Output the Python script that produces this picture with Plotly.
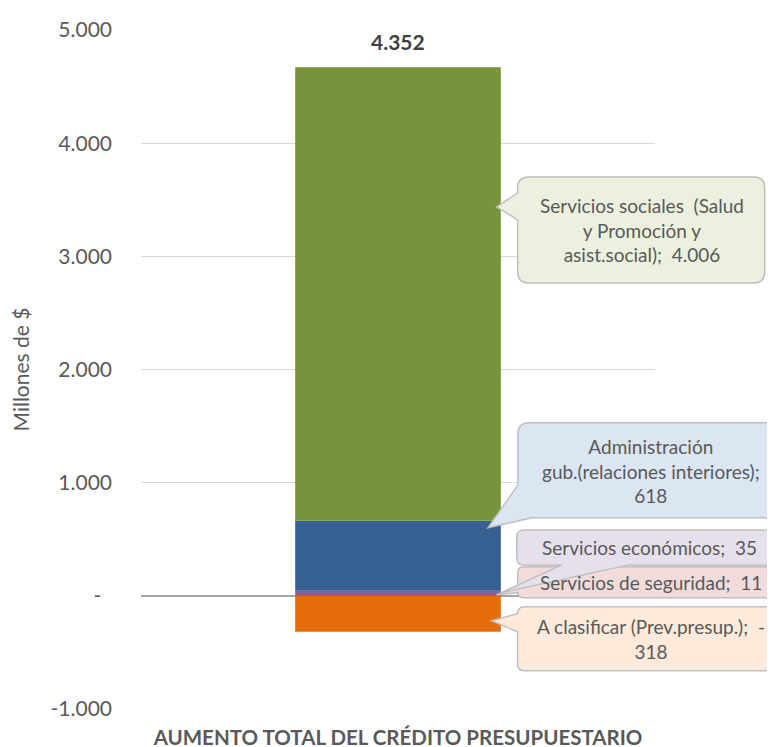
import plotly.graph_objects as go

category = "AUMENTO TOTAL DEL CRÉDITO PRESUPUESTARIO"
series_names = [
    "Servicios de seguridad",
    "Servicios económicos",
    "Administración gub.(relaciones interiores)",
    "Servicios sociales  (Salud y Promoción y asist.social)",
    "A clasificar (Prev.presup.)",
]
series_values = [11, 35, 618, 4006, -318]
series_colors = ["#C0504D", "#8064A2", "#366092", "#77933C", "#E46C0A"]
callout_texts = [
    "Servicios de seguridad;  11",
    "Servicios económicos;  35",
    "Administración<br>gub.(relaciones interiores);<br>618",
    "Servicios sociales  (Salud<br>y Promoción y<br>asist.social);  4.006",
    "A clasificar (Prev.presup.);  -<br>318",
]
callout_bg = ["#F2DCDB", "#E6E0EC", "#DCE6F2", "#EBF1DE", "#FDEADA"]
tick_vals = [-1000, 0, 1000, 2000, 3000, 4000, 5000]
tick_text = ["-1.000", "-\u00a0\u00a0", "1.000", "2.000", "3.000", "4.000", "5.000"]

total = sum(series_values)
pos_top = sum(v for v in series_values if v > 0)
x_range = [-0.5, 0.5]

fig = go.Figure()
for name, val, col in zip(series_names, series_values, series_colors):
    fig.add_trace(go.Bar(x=[category], y=[val], name=name, marker_color=col,
                         marker_line_width=0, width=0.4))

font_fam = "Lato, 'Open Sans', sans-serif"

# ---- callout layout (anchor in axis units, outline in pixels relative to tip, y down)
def rounded_path(pts, r):
    """pts: list of (x, y, round) in screen pixels (y down) relative to tip."""
    def unit(a, b):
        dx, dy = b[0] - a[0], b[1] - a[1]
        n = (dx * dx + dy * dy) ** 0.5 or 1.0
        return dx / n, dy / n
    cmds = []
    n = len(pts)
    for i, (x, y, rnd) in enumerate(pts):
        if rnd:
            p, q = pts[i - 1], pts[(i + 1) % n]
            d1, d2 = unit(p, (x, y)), unit((x, y), q)
            a = (x - r * d1[0], y - r * d1[1])
            b = (x + r * d2[0], y + r * d2[1])
            cmds.append(f"L{a[0]:.1f},{-a[1]:.1f} Q{x:.1f},{-y:.1f} {b[0]:.1f},{-b[1]:.1f}")
        else:
            cmds.append(("M" if i == 0 else "L") + f"{x:.1f},{-y:.1f}")
    return " ".join(cmds) + " Z"

def left_tail(l, t, r, b, y_up, y_low):
    return [(0, 0, 0), (l, y_up, 0), (l, t, 1), (r, t, 1), (r, b, 1), (l, b, 1), (l, y_low, 0)]

# drawing order: sociales, admin, seguridad, economicos, clasificar
callouts = [
    dict(i=3, tx=0.192, ty=3437,
         pts=left_tail(21, -30, 268, 76, -14, 13), r=11, c=(145, 23)),
    dict(i=2, tx=0.175, ty=601,
         pts=[(0, 0, 0), (30, -43, 0), (30, -105, 1), (296, -105, 1), (296, -10, 1), (44, -10, 0)],
         r=11, c=(163, -57)),
    dict(i=0, tx=0.192, ty=10,
         pts=left_tail(21, -28, 287, 3, -8, -2), r=6, c=(154, -12)),
    dict(i=1, tx=0.20, ty=26,
         pts=[(0, 0, 0), (61, -28, 0), (16, -28, 1), (16, -63, 1), (282, -63, 1), (282, -28, 1), (128, -28, 0)],
         r=7, c=(149, -45)),
    dict(i=4, tx=0.182, ty=-220,
         pts=left_tail(26, -14, 292, 50, -7, 11), r=7, c=(159, 18)),
]

shapes = []
for co in callouts:
    x_paper = (co["tx"] - x_range[0]) / (x_range[1] - x_range[0])
    shapes.append(dict(
        type="path", xref="paper", yref="y", xsizemode="pixel", ysizemode="pixel",
        xanchor=x_paper, yanchor=co["ty"], path=rounded_path(co["pts"], co["r"]),
        fillcolor=callout_bg[co["i"]], line=dict(color="#BFBFBF", width=1.5),
        layer="above",
    ))
    fig.add_annotation(
        x=co["tx"], y=co["ty"], xref="x", yref="y", text=callout_texts[co["i"]],
        showarrow=False, xshift=co["c"][0], yshift=-co["c"][1],
        align="center", xanchor="center", yanchor="middle",
        font=dict(family=font_fam, size=19, color="#595959"),
    )

fig.add_annotation(
    x=category, y=pos_top, xref="x", yref="y",
    text="<b>" + f"{total:,}".replace(",", ".") + "</b>",
    showarrow=False, yanchor="bottom", yshift=11,
    font=dict(family=font_fam, size=21, color="#404040"),
)

fig.update_layout(
    barmode="relative",
    width=767, height=739,
    margin=dict(l=133, r=120, t=22, b=38, autoexpand=False),
    plot_bgcolor="white", paper_bgcolor="white",
    showlegend=False,
    shapes=shapes,
    font=dict(family=font_fam, color="#595959"),
    xaxis=dict(
        range=x_range, showgrid=False, showline=False, ticks="",
        automargin=False, ticklabelstandoff=14,
        tickfont=dict(family=font_fam, size=20.5, color="#595959"),
        tickprefix="<b>", ticksuffix="</b>",
    ),
    yaxis=dict(
        range=[-1000, 5000], tickvals=tick_vals, ticktext=tick_text,
        showgrid=True, gridcolor="#D9D9D9", gridwidth=1.3,
        zeroline=True, zerolinecolor="#A6A6A6", zerolinewidth=2,
        showline=False, ticks="", ticklabelstandoff=28, automargin=False,
        tickfont=dict(family=font_fam, size=21, color="#595959"),
        title=dict(text="Millones de $", standoff=18,
                   font=dict(family=font_fam, size=21, color="#595959")),
    ),
)

fig.write_html("out.html")
